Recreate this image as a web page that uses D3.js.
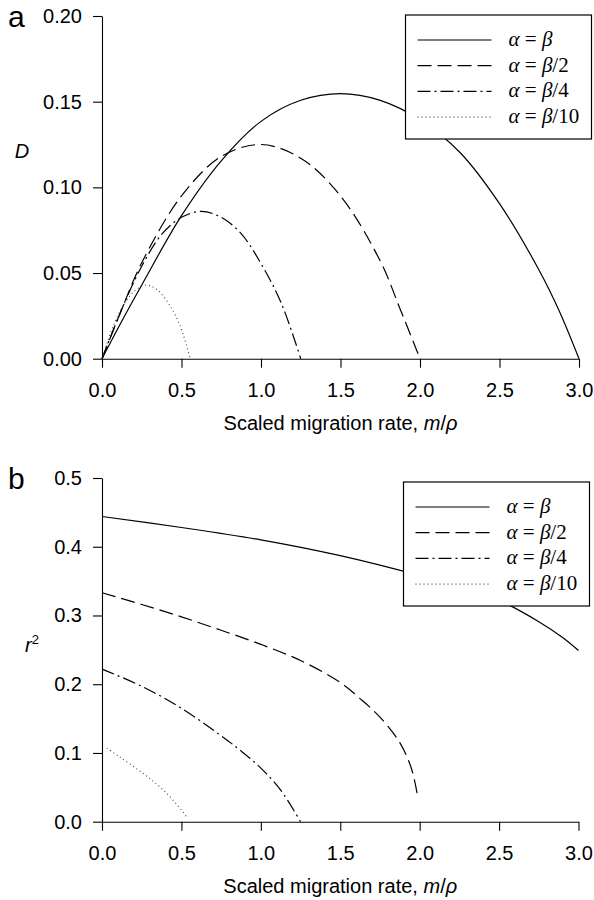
<!DOCTYPE html>
<html><head><meta charset="utf-8">
<script src="https://cdn.jsdelivr.net/npm/d3@7"></script>
<style>body{margin:0;background:#fff}svg{display:block}</style>
</head><body>
<svg id="c" width="594" height="900"></svg>
<script>
// ---- data ----
const seriesLabels = ["β", "β/2", "β/4", "β/10"];
const xTicks = [0, 0.5, 1.0, 1.5, 2.0, 2.5, 3.0];
const yTicksD = [0, 0.05, 0.10, 0.15, 0.20];
const yTicksR = [0, 0.1, 0.2, 0.3, 0.4, 0.5];

// panel a: D
const dX1 = [0,0.125,0.25,0.5,0.75,1.0,1.25,1.5,1.75,2.0,2.25,2.5,2.75,2.875,3.0];
const dY1 = [0,0.022,0.043,0.0835,0.1155,0.1385,0.1508,0.1547,0.1508,0.1395,0.1205,0.0905,0.0515,0.028,0];
const dX2 = [0,0.125,0.25,0.5,0.75,1.0,1.25,1.5,1.75,1.875,2.0];
const dY2 = [0,0.029,0.056,0.095,0.118,0.125,0.117,0.095,0.057,0.029,0];
const dX3 = [0,0.125,0.25,0.375,0.5,0.625,0.75,0.875,1.0,1.125,1.25];
const dY3 = [0,0.029,0.054,0.0725,0.0825,0.086,0.0825,0.073,0.0555,0.033,0];
const dX4 = [0,0.07,0.14,0.21,0.28,0.35,0.42,0.49,0.555];
const dY4 = [0,0.019,0.032,0.040,0.043,0.040,0.032,0.0195,0];

// panel b: r^2
const rX1 = [0,0.5,1.0,1.5,2.0,2.25,2.5,2.75,2.9,3.0];
const rY1 = [0.444,0.428,0.410,0.387,0.358,0.341,0.322,0.291,0.268,0.249];
const rX2 = [0,0.25,0.5,0.75,1.0,1.25,1.5,1.625,1.75,1.875,1.95,1.99];
const rY2 = [0.333,0.316,0.298,0.2785,0.258,0.2345,0.2025,0.179,0.152,0.115,0.076,0.033];
const rX3 = [0,0.25,0.5,0.75,0.875,1.0,1.125,1.25];
const rY3 = [0.222,0.197,0.165,0.125,0.103,0.078,0.046,0];
const rX4 = [0.03,0.1,0.2,0.3,0.4,0.5,0.535];
const rY4 = [0.107,0.096,0.080,0.063,0.043,0.017,0.006];

// ---- styles ----
const dashes = [null, "14,6", "13,4,2,4", "1,3"];
const widths = [1.2, 1.2, 1.2, 1.1];
const strokes = ["#000", "#000", "#000", "#444"];

const svg = d3.select("#c");
const sans = "'Liberation Sans', Arial, sans-serif";
const serif = "'Liberation Serif', 'Times New Roman', serif";

function panel(cfg) {
  const x = d3.scaleLinear().domain([0, 3]).range(cfg.xr);
  const y = d3.scaleLinear().domain([0, cfg.ymax]).range(cfg.yr);
  const g = svg.append("g");

  const xa = g.append("g").attr("transform", `translate(0,${cfg.yr[0]})`)
    .call(d3.axisBottom(x).tickValues(xTicks).tickFormat(d3.format(".1f")).tickSize(9).tickSizeOuter(0).tickPadding(15));
  const ya = g.append("g").attr("transform", `translate(${cfg.xr[0]},0)`)
    .call(d3.axisLeft(y).tickValues(cfg.yticks).tickFormat(d3.format(cfg.fmt)).tickSize(9).tickSizeOuter(0).tickPadding(11));
  [xa, ya].forEach(a => {
    a.selectAll("text").attr("font-family", sans).attr("font-size", 20).attr("fill", "#000");
    a.selectAll("line,path").attr("stroke", "#000").attr("stroke-width", 1.1);
  });

  const line = d3.line().x(d => x(d[0])).y(d => y(d[1])).curve(d3.curveCatmullRom.alpha(0.5));
  cfg.series.forEach((s, i) => {
    const pts = s[0].map((v, j) => [v, s[1][j]]);
    g.append("path").attr("d", line(pts)).attr("fill", "none")
      .attr("stroke", strokes[i]).attr("stroke-width", widths[i])
      .attr("stroke-dasharray", dashes[i]);
  });

  // axis title
  const t = g.append("text").attr("x", (cfg.xr[0] + cfg.xr[1]) / 2).attr("y", cfg.titleY)
    .attr("text-anchor", "middle").attr("font-family", sans).attr("font-size", 20).attr("fill", "#000");
  t.append("tspan").text("Scaled migration rate, ");
  t.append("tspan").attr("font-style", "italic").text("m");
  t.append("tspan").text("/");
  t.append("tspan").attr("font-style", "italic").text("ρ");

  // y title
  const yt = g.append("text").attr("x", cfg.ylab[0]).attr("y", cfg.ylab[1])
    .attr("text-anchor", "middle").attr("font-family", sans).attr("font-size", 20).attr("fill", "#000");
  yt.append("tspan").attr("font-style", "italic").text(cfg.ylabText);
  if (cfg.sup) yt.append("tspan").attr("font-size", 13).attr("dy", -8).text(cfg.sup);

  // panel letter
  g.append("text").attr("x", cfg.letter[0]).attr("y", cfg.letter[1]).attr("font-family", sans)
    .attr("font-size", 30).attr("fill", "#000").text(cfg.letterText);

  // legend
  const L = cfg.legend;
  const lg = g.append("g");
  lg.append("rect").attr("x", L.x).attr("y", L.y).attr("width", L.w).attr("height", L.h)
    .attr("fill", "#fff").attr("stroke", "#000").attr("stroke-width", 1.2);
  seriesLabels.forEach((lab, i) => {
    const cy = L.y + 25 + i * 25.7;
    lg.append("line").attr("x1", L.x + 12).attr("x2", L.x + 86).attr("y1", cy).attr("y2", cy)
      .attr("stroke", strokes[i]).attr("stroke-width", widths[i]).attr("stroke-dasharray", dashes[i]);
    const tx = lg.append("text").attr("x", L.x + 103).attr("y", cy + 6)
      .attr("font-family", serif).attr("font-size", 21).attr("fill", "#000");
    tx.append("tspan").attr("font-style", "italic").text("α");
    tx.append("tspan").text(" = ");
    tx.append("tspan").attr("font-style", "italic").text("β");
    if (lab.length > 1) tx.append("tspan").text(lab.slice(1));
  });
}

panel({
  xr: [102, 579], yr: [358.7, 16], ymax: 0.2, yticks: yTicksD, fmt: ".2f",
  series: [[dX1, dY1], [dX2, dY2], [dX3, dY3], [dX4, dY4]],
  titleY: 430, ylab: [22, 158], ylabText: "D", sup: null,
  letter: [8, 27], letterText: "a",
  legend: { x: 405.5, y: 15, w: 186, h: 124 }
});
panel({
  xr: [102, 578.5], yr: [821.7, 478], ymax: 0.5, yticks: yTicksR, fmt: ".1f",
  series: [[rX1, rY1], [rX2, rY2], [rX3, rY3], [rX4, rY4]],
  titleY: 893, ylab: [32, 652], ylabText: "r", sup: "2",
  letter: [8, 489], letterText: "b",
  legend: { x: 403.5, y: 482, w: 186, h: 124 }
});
</script>
</body></html>
